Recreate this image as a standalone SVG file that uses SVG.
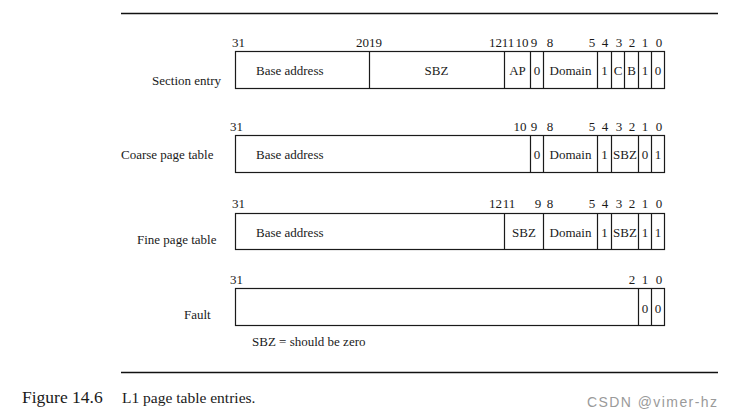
<svg xmlns="http://www.w3.org/2000/svg" width="731" height="417" viewBox="0 0 731 417">
<style>
text{font-family:"Liberation Serif","Times New Roman",serif;font-size:13px;fill:#1a1a1a}
.m{text-anchor:middle}
.e{text-anchor:end}
.box{fill:#fff;stroke:#1a1a1a;stroke-width:1.2}
.div{stroke:#1a1a1a;stroke-width:1.2}
.rule{stroke:#111;stroke-width:1.3}
.cap{font-size:17.5px}
.capt{font-size:15.5px}
.wm{font-family:"Liberation Sans",Arial,sans-serif;font-size:14px;fill:#9a9a9a}
</style>
<rect width="731" height="417" fill="#fff"/>
<line class="rule" x1="121" y1="13.5" x2="718" y2="13.5"/>
<line class="rule" x1="121" y1="372.5" x2="718" y2="372.5"/>

<g id="section-entry">
<text x="152" y="85">Section entry</text>
<rect class="box" x="235.5" y="51.5" width="429" height="37"/>
<path class="div" d="M369.5 51.5V88.5M504.5 51.5V88.5M530.5 51.5V88.5M543.5 51.5V88.5M597.5 51.5V88.5M611.5 51.5V88.5M624.5 51.5V88.5M638.5 51.5V88.5M651.5 51.5V88.5"/>
<text x="232" y="47">31</text>
<text class="e" x="369" y="47">20</text>
<text x="369" y="47">19</text>
<text class="e" x="502" y="47">12</text>
<text class="m" x="508" y="47">11</text>
<text class="m" x="522" y="47">10</text>
<text class="m" x="534" y="47">9</text>
<text class="m" x="550" y="47">8</text>
<text class="m" x="592" y="47">5</text>
<text class="m" x="605" y="47">4</text>
<text class="m" x="619" y="47">3</text>
<text class="m" x="632" y="47">2</text>
<text class="m" x="645" y="47">1</text>
<text class="m" x="659" y="47">0</text>
<text x="256" y="75">Base address</text>
<text class="m" x="436.5" y="75">SBZ</text>
<text class="m" x="517.5" y="75">AP</text>
<text class="m" x="537" y="75">0</text>
<text class="m" x="570.5" y="75">Domain</text>
<text class="m" x="604.5" y="75">1</text>
<text class="m" x="618" y="75">C</text>
<text class="m" x="631.5" y="75">B</text>
<text class="m" x="645" y="75">1</text>
<text class="m" x="658" y="75">0</text>
</g>

<g id="coarse-page-table">
<text x="121" y="159">Coarse page table</text>
<rect class="box" x="235.5" y="135.5" width="429" height="37"/>
<path class="div" d="M530.5 135.5V172.5M543.5 135.5V172.5M597.5 135.5V172.5M611.5 135.5V172.5M638.5 135.5V172.5M651.5 135.5V172.5"/>
<text x="230" y="131">31</text>
<text class="m" x="520" y="131">10</text>
<text class="m" x="534" y="131">9</text>
<text class="m" x="550" y="131">8</text>
<text class="m" x="592" y="131">5</text>
<text class="m" x="605" y="131">4</text>
<text class="m" x="619" y="131">3</text>
<text class="m" x="632" y="131">2</text>
<text class="m" x="645" y="131">1</text>
<text class="m" x="659" y="131">0</text>
<text x="256" y="159">Base address</text>
<text class="m" x="537" y="159">0</text>
<text class="m" x="570.5" y="159">Domain</text>
<text class="m" x="604.5" y="159">1</text>
<text class="m" x="625" y="159">SBZ</text>
<text class="m" x="645" y="159">0</text>
<text class="m" x="658" y="159">1</text>
</g>

<g id="fine-page-table">
<text x="137" y="244">Fine page table</text>
<rect class="box" x="235.5" y="213.5" width="429" height="36"/>
<path class="div" d="M504.5 213.5V249.5M543.5 213.5V249.5M597.5 213.5V249.5M611.5 213.5V249.5M638.5 213.5V249.5M651.5 213.5V249.5"/>
<text x="232" y="208">31</text>
<text class="e" x="502" y="208">12</text>
<text class="m" x="509" y="208">11</text>
<text class="m" x="538" y="208">9</text>
<text class="m" x="550" y="208">8</text>
<text class="m" x="592" y="208">5</text>
<text class="m" x="605" y="208">4</text>
<text class="m" x="619" y="208">3</text>
<text class="m" x="632" y="208">2</text>
<text class="m" x="645" y="208">1</text>
<text class="m" x="659" y="208">0</text>
<text x="256" y="237">Base address</text>
<text class="m" x="524" y="237">SBZ</text>
<text class="m" x="570.5" y="237">Domain</text>
<text class="m" x="604.5" y="237">1</text>
<text class="m" x="625" y="237">SBZ</text>
<text class="m" x="645" y="237">1</text>
<text class="m" x="658" y="237">1</text>
</g>

<g id="fault">
<text x="184" y="319">Fault</text>
<rect class="box" x="235.5" y="288.5" width="429" height="37"/>
<path class="div" d="M638.5 288.5V325.5M651.5 288.5V325.5"/>
<text x="230" y="284">31</text>
<text class="m" x="632" y="284">2</text>
<text class="m" x="645" y="284">1</text>
<text class="m" x="659" y="284">0</text>
<text class="m" x="645" y="313">0</text>
<text class="m" x="658" y="313">0</text>
</g>

<g id="legend">
<text x="252" y="346">SBZ = should be zero</text>
</g>

<g id="caption">
<text class="cap" x="22" y="403">Figure 14.6</text>
<text class="capt" x="122" y="403">L1 page table entries.</text>
<text class="wm" x="587" y="407" textLength="130" lengthAdjust="spacing">CSDN @vimer-hz</text>
</g>
</svg>
